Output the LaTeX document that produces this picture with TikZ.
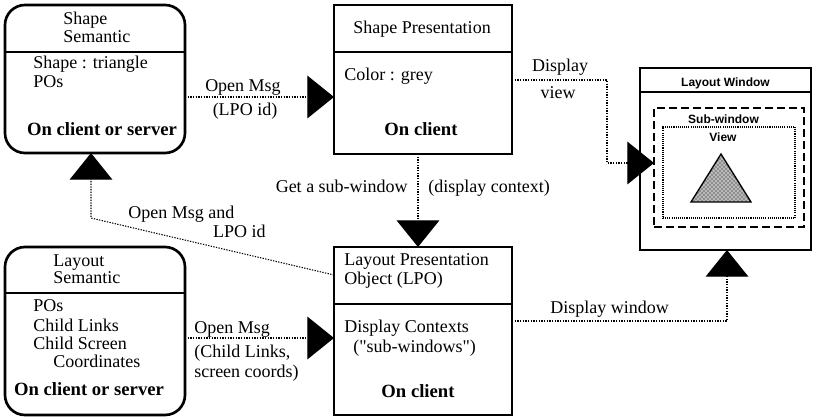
\documentclass[tikz,border=0pt]{standalone}
\usepackage{fontspec}
\setmainfont{Liberation Serif}
\newfontfamily\winfont{Liberation Sans}
\usetikzlibrary{arrows.meta,fit,patterns}
% straight double quote, untouched by the TeX ligature mapping
\newcommand{\straightquote}{{\addfontfeatures{Ligatures=TeXOff}"}}
\begin{document}
\begin{tikzpicture}[x=0.75pt,y=-0.75pt,
  box/.style={draw, line width=2pt, inner sep=0pt, outer sep=0pt},
  rbox/.style={box, rounded corners=15pt},
  divider/.style={line width=1.5pt},
  conn/.style={line width=0.8pt, dash pattern=on 1pt off 1pt,
    -{Triangle[length=20pt,width=32pt]}},
  lbl/.style={font=\fontsize{13.5}{16}\selectfont, inner sep=0pt, anchor=base west},
  lblc/.style={lbl, anchor=base},
  lble/.style={lbl, anchor=base east},
  where/.style={font=\fontsize{14}{16}\selectfont\bfseries, inner sep=0pt, anchor=base},
  win/.style={font=\winfont\fontsize{9}{11}\selectfont\bfseries, inner sep=0pt, anchor=base},
]
\useasboundingbox (0,0) rectangle (815,419);

% ---------- boxes ----------
\node[rbox, fit={(5,5) (185,153)}] (ss) {};
\node[box, fit={(334,5) (512,154)}] (sp) {};
\node[rbox, fit={(5,247) (185,415)}] (ls) {};
\node[box, fit={(334,247) (512,415)}] (lpo) {};
\node[box, fit={(640,68) (811,250)}] (lw) {};
\node[draw, line width=1.3pt, dash pattern=on 6pt off 3pt, inner sep=0pt, outer sep=0pt,
      fit={(654,108) (804,227)}] (sub) {};
\node[draw, line width=1pt, dash pattern=on 0.8pt off 0.8pt, inner sep=0pt, outer sep=0pt,
      fit={(663,127) (795,218)}] (view) {};

% title dividers
\coordinate (d1) at (0,52);
\coordinate (d2) at (0,293);
\coordinate (d3) at (0,304);
\coordinate (d4) at (0,92);
\draw[divider] (ss.west |- d1) -- (ss.east |- d1);
\draw[divider] (sp.west |- d1) -- (sp.east |- d1);
\draw[divider] (ls.west |- d2) -- (ls.east |- d2);
\draw[divider] (lpo.west |- d3) -- (lpo.east |- d3);
\draw[divider] (lw.west |- d4) -- (lw.east |- d4);

% the shape shown inside the view
\filldraw[fill=gray!55, line width=1pt] (721,154) -- (691,202) -- (751,202) -- cycle;
\fill[pattern=crosshatch dots, pattern color=black] (721,154) -- (691,202) -- (751,202) -- cycle;

% ---------- box texts ----------
\node[lbl] (ssA) at (63,24) {Shape};
\node[lbl] (ssB) at (63,42) {Semantic};
\node[lbl] (ssC) at (33,68) {Shape : triangle};
\node[lbl] (ssD) at (33,87) {POs};
\node[where] (ssE) at (102,135) {On client or server};

\node[lblc] (spA) at (422,33) {Shape Presentation};
\node[lbl] (spB) at (344,80) {Color : grey};
\node[where] (spC) at (421,135) {On client};

\node[lbl] (lsA) at (53,266) {Layout};
\node[lbl] (lsB) at (53,283) {Semantic};
\node[lbl] (lsC) at (33,311) {POs};
\node[lbl] (lsD) at (33,331) {Child Links};
\node[lbl] (lsE) at (33,349) {Child Screen};
\node[lbl] (lsF) at (53,367) {Coordinates};
\node[where] (lsG) at (89,395) {On client or server};

\node[lbl] (lpoA) at (344,265) {Layout Presentation};
\node[lbl] (lpoB) at (344,284) {Object (LPO)};
\node[lbl] (lpoC) at (344,332) {Display Contexts};
\node[lbl] (lpoD) at (353,352) {(\straightquote sub-windows\straightquote)};
\node[where] (lpoE) at (418,397) {On client};

\node[win] (lwA) at (725.5,86) {Layout Window};
\node[win] (subA) at (723.5,123) {Sub-window};
\node[win] (viewA) at (723,141) {View};

% ---------- connectors ----------
\coordinate (c1) at (0,97);
\draw[conn] (ss.east |- c1) -- (sp.west |- c1);
\node[lblc] (m1a) at (243,91) {Open Msg};
\node[lblc] (m1b) at (245,115) {(LPO id)};

\coordinate (dv1) at (607,80);
\coordinate (dv2) at (607,163);
\draw[conn] (sp.east |- dv1) -- (dv1) -- (dv2) -- (sub.west |- dv2);
\node[lblc] (m2a) at (560,71) {Display};
\node[lblc] (m2b) at (558,98) {view};

\coordinate (gs) at (418,0);
\draw[conn] (sp.south -| gs) -- (lpo.north -| gs);
\node[lble] (m3a) at (408,192) {Get a sub-window};
\node[lbl] (m3b) at (428,192) {(display context)};

\coordinate (om1) at (0,275);
\coordinate (om2) at (91,218);
\draw[conn] (lpo.west |- om1) -- (om2) -- (ss.south -| om2);
\node[lbl] (m4a) at (128,218) {Open Msg and};
\node[lble] (m4b) at (266,237) {LPO id};

\coordinate (c2) at (0,338);
\draw[conn] (ls.east |- c2) -- (lpo.west |- c2);
\node[lbl] (m5a) at (194,333) {Open Msg};
\node[lbl] (m5b) at (194,357) {(Child Links,};
\node[lbl] (m5c) at (194,377) {screen coords)};

\coordinate (dw) at (0,321);
\coordinate (dwx) at (727,0);
\draw[conn] (lpo.east |- dw) -- (dwx |- dw) -- (lw.south -| dwx);
\node[lbl] (m6a) at (550,313) {Display window};
\end{tikzpicture}
\end{document}
